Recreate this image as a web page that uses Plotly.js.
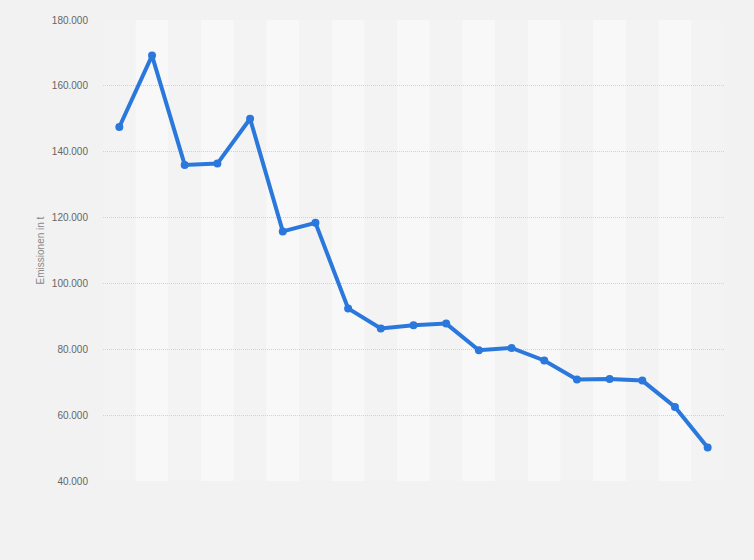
<!DOCTYPE html>
<html>
<head>
<meta charset="utf-8">
<script src="https://cdn.plot.ly/plotly-3.0.1.min.js"></script>
<style>
html,body{margin:0;padding:0;background:#f2f2f2;}
#chart{width:754px;height:560px;}
</style>
</head>
<body>
<div id="chart"></div>
<script>
const categories = ["2003","2004","2005","2006","2007","2008","2009","2010","2011","2012","2013","2014","2015","2016","2017","2018","2019","2020","2021"];
const emissions = [147500,169200,136000,136400,150000,115800,118400,92400,86300,87300,87800,79700,80400,76600,70800,71000,70500,62500,50200];
const yTickVals = [40000,60000,80000,100000,120000,140000,160000,180000];
const yTickText = ["40.000","60.000","80.000","100.000","120.000","140.000","160.000","180.000"];
const yTitle = "Emissionen in t";

const shapes = categories.map((c, i) => ({
  type: "rect", xref: "x", yref: "paper",
  x0: i - 0.5, x1: i + 0.5, y0: 0, y1: 1,
  fillcolor: i % 2 === 1 ? "#f8f8f8" : "#f3f3f3",
  line: {width: 0}, layer: "below"
}));

const trace = {
  x: categories.map((c, i) => i),
  y: emissions,
  type: "scatter",
  mode: "lines+markers",
  line: {color: "#2b78dc", width: 4},
  marker: {color: "#2b78dc", size: 8},
  hoverinfo: "y"
};

const layout = {
  width: 754, height: 560,
  paper_bgcolor: "#f2f2f2",
  plot_bgcolor: "#f3f3f3",
  margin: {l: 103, r: 30, t: 20, b: 79},
  showlegend: false,
  font: {family: "Liberation Sans, Arial, sans-serif", color: "#666", size: 10},
  xaxis: {
    range: [-0.5, categories.length - 0.5],
    tickvals: categories.map((c, i) => i),
    ticktext: categories,
    showticklabels: false,
    showgrid: false, zeroline: false, showline: false, ticks: ""
  },
  yaxis: {
    range: [40000, 180000],
    tickvals: yTickVals,
    ticktext: yTickText,
    showgrid: true,
    gridcolor: "#d2d2d2",
    griddash: "1px,1px",
    gridwidth: 1,
    zeroline: false, showline: false, ticks: "",
    ticklabelstandoff: 14,
    tickfont: {size: 10, color: "#666"},
    title: {text: yTitle, font: {size: 10, color: "#888"}, standoff: 5}
  },
  shapes: shapes
};

Plotly.newPlot("chart", [trace], layout, {displayModeBar: false, staticPlot: true});
</script>
</body>
</html>
